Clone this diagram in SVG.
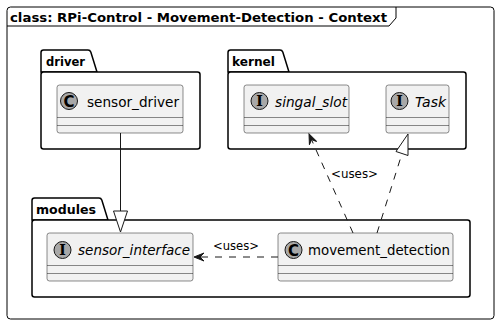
<svg xmlns="http://www.w3.org/2000/svg" width="499" height="326" viewBox="0 0 499 326">
  <style>
    .frame { fill: none; stroke: #000; stroke-width: 1; }
    .pkg { fill: #fff; stroke: #000; stroke-width: 1.5; }
    .cls { fill: #F1F1F1; stroke: #181818; stroke-width: 0.5; }
    .sep { stroke: #181818; stroke-width: 0.5; }
    .badge { fill: #A8A8A8; stroke: #181818; stroke-width: 1; }
    .bold { font-family: "DejaVu Sans", sans-serif; font-weight: bold; font-size: 13px; fill: #000; }
    .name { font-family: "DejaVu Sans", sans-serif; font-size: 14px; fill: #000; }
    .iname { font-family: "DejaVu Sans", sans-serif; font-size: 14px; font-style: italic; fill: #000; }
    .letter { font-family: "DejaVu Sans", sans-serif; font-weight: bold; font-size: 15px; fill: #000; text-anchor: middle; }
    .iletter { font-family: "DejaVu Serif", serif; font-weight: bold; font-size: 14px; fill: #000; text-anchor: middle; }
    .label { font-family: "DejaVu Sans", sans-serif; font-size: 12px; fill: #000; }
    .solid { fill: none; stroke: #181818; stroke-width: 1; }
    .dash { fill: none; stroke: #181818; stroke-width: 1; stroke-dasharray: 7 7; }
    .head { fill: #fff; stroke: #181818; stroke-width: 1; }
  </style>
  <defs>
    <marker id="open" viewBox="0 0 12 12" refX="10" refY="6" markerWidth="12" markerHeight="12" markerUnits="userSpaceOnUse" orient="auto">
      <path d="M0,2 L10,6 L0,10 L4,6 Z" fill="#181818" stroke="#181818" stroke-width="1"/>
    </marker>
  </defs>

  <!-- outer frame with title tab -->
  <g id="frame">
    <rect class="frame" x="7" y="7" width="487" height="312" rx="3.5"/>
    <path class="frame" d="M7,26 L389,26 L396,18 L396,7"/>
    <text class="bold" x="10" y="21.5" textLength="377" lengthAdjust="spacingAndGlyphs">class: RPi-Control - Movement-Detection - Context</text>
  </g>

  <!-- package: driver -->
  <g id="pkg-driver">
    <path class="pkg" d="M41,72 L41,52.5 Q41,50 43.5,50 L88,50 Q90,50 90.8,52 L97,72 Z"/>
    <rect class="pkg" x="41" y="72" width="159" height="77" rx="2.5"/>
    <text class="bold" x="46" y="66" textLength="39" lengthAdjust="spacingAndGlyphs">driver</text>
  </g>

  <!-- package: kernel -->
  <g id="pkg-kernel">
    <path class="pkg" d="M228,72 L228,52.5 Q228,50 230.5,50 L280,50 Q282,50 282.8,52 L289,72 Z"/>
    <rect class="pkg" x="228" y="72" width="238" height="77" rx="2.5"/>
    <text class="bold" x="232" y="66" textLength="43" lengthAdjust="spacingAndGlyphs">kernel</text>
  </g>

  <!-- package: modules -->
  <g id="pkg-modules">
    <path class="pkg" d="M32,220 L32,200.5 Q32,198 34.5,198 L99,198 Q101,198 101.8,200 L108,220 Z"/>
    <rect class="pkg" x="32" y="220" width="438" height="77" rx="2.5"/>
    <text class="bold" x="36" y="214" textLength="60" lengthAdjust="spacingAndGlyphs">modules</text>
  </g>

  <!-- class: sensor_driver -->
  <g id="sensor_driver">
    <rect class="cls" x="57" y="85" width="126" height="48" rx="2.5"/>
    <line class="sep" x1="57" y1="117.5" x2="183" y2="117.5"/>
    <line class="sep" x1="57" y1="125.5" x2="183" y2="125.5"/>
    <circle class="badge" cx="69" cy="101" r="8.5"/>
    <text class="letter" x="69" y="106.5">C</text>
    <text class="name" x="87" y="106.5" textLength="92" lengthAdjust="spacingAndGlyphs">sensor_driver</text>
  </g>

  <!-- interface: singal_slot -->
  <g id="singal_slot">
    <rect class="cls" x="244" y="85" width="105" height="48" rx="2.5"/>
    <line class="sep" x1="244" y1="117.5" x2="349" y2="117.5"/>
    <line class="sep" x1="244" y1="125.5" x2="349" y2="125.5"/>
    <circle class="badge" cx="259.5" cy="101" r="8.5"/>
    <text class="iletter" x="259.5" y="106">I</text>
    <text class="iname" x="275" y="106.5" textLength="72" lengthAdjust="spacingAndGlyphs">singal_slot</text>
  </g>

  <!-- interface: Task -->
  <g id="Task">
    <rect class="cls" x="386" y="85" width="63" height="48" rx="2.5"/>
    <line class="sep" x1="386" y1="117.5" x2="449" y2="117.5"/>
    <line class="sep" x1="386" y1="125.5" x2="449" y2="125.5"/>
    <circle class="badge" cx="399.5" cy="101" r="8.5"/>
    <text class="iletter" x="399.5" y="106">I</text>
    <text class="iname" x="415" y="106.5" textLength="31" lengthAdjust="spacingAndGlyphs">Task</text>
  </g>

  <!-- interface: sensor_interface -->
  <g id="sensor_interface">
    <rect class="cls" x="47" y="233" width="146" height="48" rx="2.5"/>
    <line class="sep" x1="47" y1="265.5" x2="193" y2="265.5"/>
    <line class="sep" x1="47" y1="273.5" x2="193" y2="273.5"/>
    <circle class="badge" cx="62.5" cy="250" r="8.5"/>
    <text class="iletter" x="62.5" y="255">I</text>
    <text class="iname" x="78" y="254.5" textLength="112" lengthAdjust="spacingAndGlyphs">sensor_interface</text>
  </g>

  <!-- class: movement_detection -->
  <g id="movement_detection">
    <rect class="cls" x="278" y="233" width="175" height="48" rx="2.5"/>
    <line class="sep" x1="278" y1="265.5" x2="453" y2="265.5"/>
    <line class="sep" x1="278" y1="273.5" x2="453" y2="273.5"/>
    <circle class="badge" cx="293.5" cy="250" r="8.5"/>
    <text class="letter" x="293.5" y="255.5">C</text>
    <text class="name" x="308" y="254.5" textLength="142" lengthAdjust="spacingAndGlyphs">movement_detection</text>
  </g>

  <!-- relations -->
  <g id="connectors">
    <!-- sensor_driver implements sensor_interface -->
    <line class="solid" x1="120.5" y1="133" x2="120.5" y2="211"/>
    <polygon class="head" points="113.5,211 127.5,211 120.5,232"/>

    <!-- movement_detection uses singal_slot -->
    <line class="dash" x1="353" y1="233" x2="309" y2="134" marker-end="url(#open)"/>
    <text class="label" x="331" y="178" textLength="47" lengthAdjust="spacingAndGlyphs">&lt;uses&gt;</text>

    <!-- movement_detection implements Task -->
    <line class="dash" x1="377" y1="233" x2="402" y2="153.5"/>
    <polygon class="head" points="408,134 396,151.5 408,155.5"/>

    <!-- movement_detection uses sensor_interface -->
    <line class="dash" x1="278" y1="257" x2="194" y2="257" marker-end="url(#open)"/>
    <text class="label" x="213" y="250" textLength="46" lengthAdjust="spacingAndGlyphs">&lt;uses&gt;</text>
  </g>
</svg>
